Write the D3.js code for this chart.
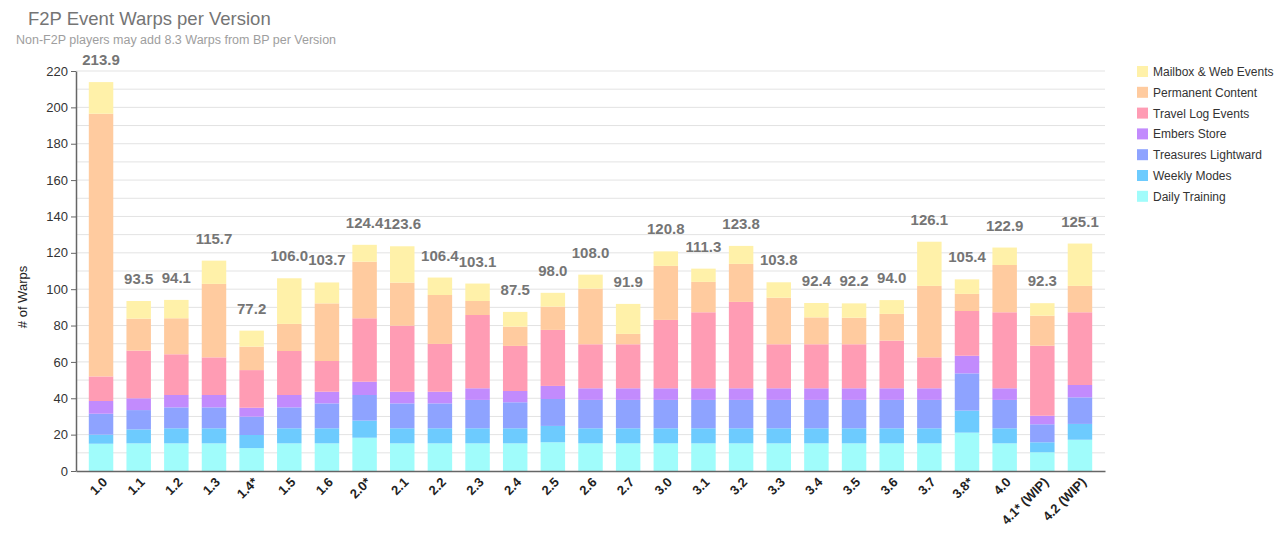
<!DOCTYPE html>
<html>
<head>
<meta charset="utf-8">
<script src="https://cdn.jsdelivr.net/npm/d3@7"></script>
<style>
  body { margin: 0; background: #fff; font-family: "Liberation Sans", Arial, sans-serif; }
  .value-label { font-weight: bold; fill: #757575; font-size: 15px; }
  .x-label { font-weight: bold; font-size: 13px; fill: #222; }
</style>
</head>
<body>
<svg id="chart"></svg>
<script>
// Versions along the x-axis
const versions = ["1.0", "1.1", "1.2", "1.3", "1.4*", "1.5", "1.6", "2.0*", "2.1", "2.2", "2.3", "2.4", "2.5", "2.6",
  "2.7", "3.0", "3.1", "3.2", "3.3", "3.4", "3.5", "3.6", "3.7", "3.8*", "4.0", "4.1* (WIP)", "4.2 (WIP)"];

// Series values (bottom to top of stack)
const dailyTraining      = [15.0, 15.2, 15.2, 15.2, 12.6, 15.2, 15.2, 18.3, 15.2, 15.2, 15.2, 15.2, 15.8, 15.2, 15.2, 15.2, 15.2, 15.2, 15.2, 15.2, 15.2, 15.2, 15.2, 21.1, 15.2, 10.3, 17.2];
const weeklyModes        = [5.0, 7.7, 8.3, 8.3, 7.2, 8.3, 8.3, 9.4, 8.3, 8.3, 8.3, 8.3, 9.0, 8.3, 8.3, 8.3, 8.3, 8.3, 8.3, 8.3, 8.3, 8.3, 8.3, 12.1, 8.3, 5.5, 8.7];
const treasuresLightward = [11.5, 10.6, 11.5, 11.5, 10.1, 11.5, 13.7, 14.1, 13.7, 13.7, 15.6, 14.3, 14.8, 15.6, 15.6, 15.6, 15.6, 15.6, 15.6, 15.6, 15.6, 15.6, 15.6, 20.5, 15.6, 9.9, 14.6];
const embersStore        = [7.0, 6.5, 6.8, 6.8, 4.9, 6.8, 6.4, 7.3, 6.4, 6.4, 6.4, 6.2, 7.2, 6.4, 6.4, 6.4, 6.4, 6.4, 6.4, 6.4, 6.4, 6.4, 6.4, 9.7, 6.4, 4.7, 6.8];
const travelLogEvents    = [13.5, 26.2, 22.4, 20.7, 20.7, 24.2, 16.9, 34.9, 36.3, 26.3, 40.3, 24.8, 30.8, 24.2, 24.2, 37.6, 41.8, 47.5, 24.2, 24.2, 24.2, 26.2, 17.0, 24.6, 41.8, 38.5, 40.0];
const permanentContent   = [144.5, 17.6, 19.8, 40.4, 12.9, 14.9, 31.7, 31.1, 23.7, 26.9, 7.7, 10.6, 12.8, 30.6, 5.7, 29.7, 16.7, 20.9, 25.6, 14.8, 14.6, 14.7, 39.3, 9.4, 26.0, 16.5, 14.5];
const mailboxWebEvents   = [17.4, 9.7, 10.1, 12.8, 8.8, 25.1, 11.5, 9.3, 20.0, 9.6, 9.6, 8.1, 7.6, 7.7, 16.5, 8.0, 7.3, 9.9, 8.5, 7.9, 7.9, 7.6, 24.3, 8.0, 9.6, 6.9, 23.3];

// Totals shown above each bar
const totals = [213.9, 93.5, 94.1, 115.7, 77.2, 106.0, 103.7, 124.4, 123.6, 106.4, 103.1, 87.5, 98.0, 108.0, 91.9,
  120.8, 111.3, 123.8, 103.8, 92.4, 92.2, 94.0, 126.1, 105.4, 122.9, 92.3, 125.1];

const seriesNames = ["Daily Training", "Weekly Modes", "Treasures Lightward", "Embers Store",
  "Travel Log Events", "Permanent Content", "Mailbox & Web Events"];
const seriesValues = [dailyTraining, weeklyModes, treasuresLightward, embersStore,
  travelLogEvents, permanentContent, mailboxWebEvents];
const colors = ["#a0fcfb", "#6dcbfe", "#8ea3ff", "#c28bfd", "#ff9cb4", "#ffcb9f", "#fff1a9"];

const yTicks = [0, 20, 40, 60, 80, 100, 120, 140, 160, 180, 200, 220];

// Dimensions
const W = 1280, H = 550;
const margin = { top: 71, right: 175, bottom: 79, left: 76 };
const width = W - margin.left - margin.right;
const height = H - margin.top - margin.bottom;

const svg = d3.select("#chart").attr("width", W).attr("height", H);

// Title and subtitle
svg.append("text")
    .attr("x", 28).attr("y", 25)
    .attr("font-size", 18.5).attr("fill", "#757575")
    .text("F2P Event Warps per Version");
svg.append("text")
    .attr("x", 16).attr("y", 44)
    .attr("font-size", 12.5).attr("fill", "#9e9e9e")
    .text("Non-F2P players may add 8.3 Warps from BP per Version");

const g = svg.append("g").attr("transform", `translate(${margin.left},${margin.top})`);

// Build table for stacking
const table = versions.map((v, i) => {
    const row = { version: v };
    seriesNames.forEach((s, j) => row[s] = seriesValues[j][i]);
    return row;
});
const stacked = d3.stack().keys(seriesNames)(table);

const x = d3.scaleBand()
    .domain(versions)
    .range([0, width])
    .paddingInner(0.35)
    .paddingOuter(0.34);

const y = d3.scaleLinear()
    .domain([0, 220])
    .range([height, 0]);

// Gridlines every 10
g.append("g")
    .selectAll("line")
    .data(d3.range(10, 221, 10))
  .enter().append("line")
    .attr("x1", 0).attr("x2", width)
    .attr("y1", d => y(d)).attr("y2", d => y(d))
    .attr("stroke", "#e3e3e3").attr("stroke-width", 1);

// Bars
g.selectAll(".series")
    .data(stacked)
  .enter().append("g")
    .attr("fill", (d, i) => colors[i])
  .selectAll("rect")
    .data(d => d)
  .enter().append("rect")
    .attr("x", d => x(d.data.version))
    .attr("y", d => y(d[1]))
    .attr("width", x.bandwidth())
    .attr("height", d => y(d[0]) - y(d[1]));

// Total labels
g.selectAll(".value-label")
    .data(totals)
  .enter().append("text")
    .attr("class", "value-label")
    .attr("x", (d, i) => x(versions[i]) + x.bandwidth() / 2)
    .attr("y", d => y(d) - 17)
    .attr("text-anchor", "middle")
    .text(d => d.toFixed(1));

// Y axis
const yAxis = g.append("g")
    .call(d3.axisLeft(y).tickValues(yTicks).tickSize(5).tickSizeOuter(0));
yAxis.select(".domain").attr("stroke", "#666").attr("stroke-width", 1.5);
yAxis.selectAll(".tick line").attr("stroke", "#666");
yAxis.selectAll("text")
    .attr("font-family", "Liberation Sans, Arial, sans-serif")
    .attr("font-size", 13).attr("fill", "#333").attr("x", -8);

// X axis
const xAxis = g.append("g")
    .attr("transform", `translate(0,${height})`)
    .call(d3.axisBottom(x).tickSize(0).tickSizeOuter(0));
xAxis.select(".domain").attr("stroke", "#666").attr("stroke-width", 1.5);
xAxis.selectAll("text")
    .attr("class", "x-label")
    .attr("font-family", "Liberation Sans, Arial, sans-serif")
    .attr("dy", null)
    .attr("y", 0)
    .attr("transform", "translate(7,12) rotate(-45)")
    .style("text-anchor", "end");

// Y axis title
svg.append("text")
    .attr("transform", "rotate(-90)")
    .attr("x", -297).attr("y", 27)
    .attr("text-anchor", "middle")
    .attr("font-size", 13).attr("fill", "#222")
    .text("# of Warps");

// Legend (top item is top of stack)
const legend = svg.append("g").attr("transform", "translate(1137,66)");
const legendOrder = d3.range(seriesNames.length).reverse();
legendOrder.forEach((j, k) => {
    const row = legend.append("g").attr("transform", `translate(0,${k * 20.8})`);
    row.append("rect").attr("width", 11).attr("height", 11).attr("fill", colors[j]);
    row.append("text")
        .attr("x", 16).attr("y", 10)
        .attr("font-size", 12).attr("fill", "#333")
        .text(seriesNames[j]);
});
</script>
</body>
</html>
